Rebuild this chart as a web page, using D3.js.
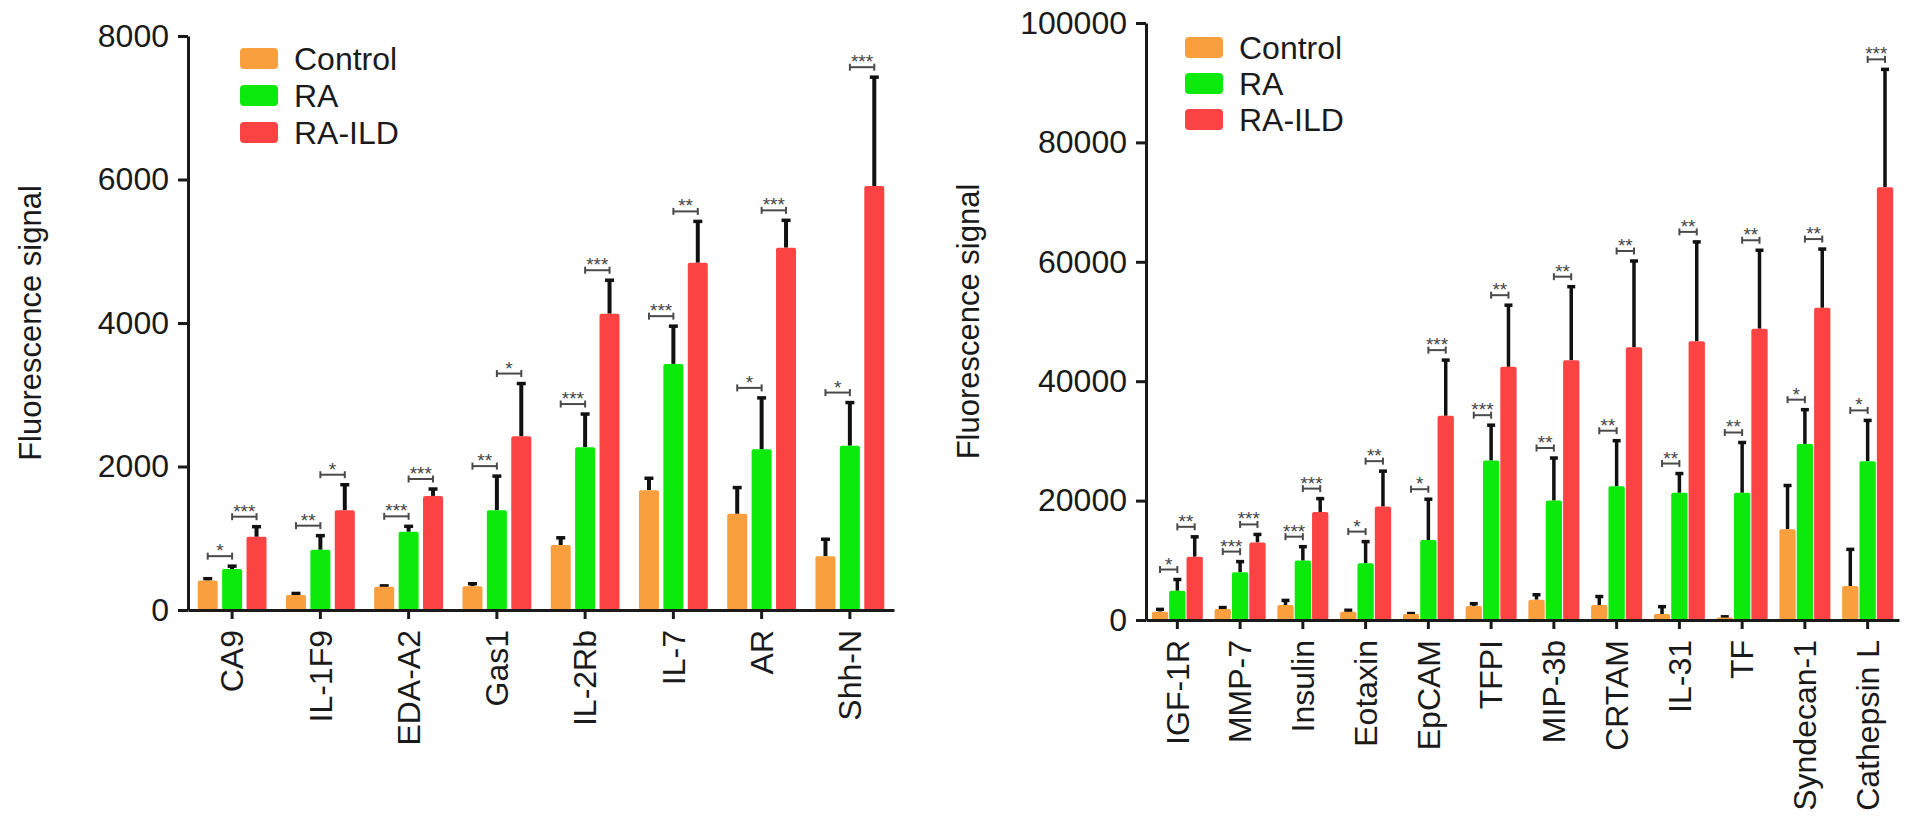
<!DOCTYPE html>
<html>
<head>
<meta charset="utf-8">
<script src="https://cdn.jsdelivr.net/npm/d3@7"></script>
<style>
  body { margin: 0; background: #fff; }
  svg { display: block; font-family: "Liberation Sans", Arial, Helvetica, sans-serif; }
</style>
</head>
<body>
<svg id="chart" width="1913" height="830"></svg>
<script>
// ---------- data ----------
const seriesNames = ["Control", "RA", "RA-ILD"];
const seriesColors = ["#F99F3E", "#0BEA0B", "#FB4343"];

// left panel
const catsLeft = ["CA9", "IL-1F9", "EDA-A2", "Gas1", "IL-2Rb", "IL-7", "AR", "Shh-N"];
const controlLeft = [410, 210, 325, 330, 905, 1670, 1340, 750];
const controlErrLeft = [40, 35, 25, 50, 115, 180, 380, 250];
const raLeft = [570, 840, 1090, 1390, 2270, 3430, 2240, 2290];
const raErrLeft = [55, 210, 90, 490, 475, 540, 730, 615];
const ildLeft = [1020, 1390, 1590, 2420, 4130, 4840, 5050, 5910];
const ildErrLeft = [155, 370, 110, 750, 480, 590, 395, 1530];
const sigCtrlRaLeft = ["*", "**", "***", "**", "***", "***", "*", "*"];
const sigRaIldLeft = ["***", "*", "***", "*", "***", "**", "***", "***"];
const ticksLeft = [0, 2000, 4000, 6000, 8000];

// right panel
const catsRight = ["IGF-1R", "MMP-7", "Insulin", "Eotaxin", "EpCAM", "TFPI", "MIP-3b", "CRTAM", "IL-31", "TF", "Syndecan-1", "Cathepsin L"];
const controlRight = [1400, 1850, 2500, 1400, 1000, 2350, 3400, 2500, 1000, 400, 15200, 5700];
const controlErrRight = [550, 400, 950, 400, 250, 550, 1000, 1600, 1400, 300, 7500, 6300];
const raRight = [4900, 8000, 9950, 9500, 13400, 26700, 20000, 22400, 21300, 21300, 29500, 26600];
const raErrRight = [2050, 1950, 2500, 3800, 7000, 6100, 7300, 7800, 3400, 8600, 5900, 7000];
const ildRight = [10600, 13000, 18100, 19000, 34200, 42400, 43500, 45700, 46700, 48800, 52300, 72500];
const ildErrRight = [3500, 1500, 2400, 6100, 9500, 10500, 12500, 14600, 16800, 13300, 10000, 19900];
const sigCtrlRaRight = ["*", "***", "***", "*", "*", "***", "**", "**", "**", "**", "*", "*"];
const sigRaIldRight = ["**", "***", "***", "**", "***", "**", "**", "**", "**", "**", "**", "***"];
const ticksRight = [0, 20000, 40000, 60000, 80000, 100000];

const yTitle = "Fluorescence signal";

// ---------- drawing ----------
const svg = d3.select("#chart");

function drawPanel(cfg) {
  const g = svg.append("g");
  const y = d3.scaleLinear().domain([0, cfg.ticks[cfg.ticks.length - 1]]).range([cfg.y0, cfg.y1]);
  const x0 = d3.scaleBand().domain(cfg.cats).range([cfg.x0, cfg.x1])
    .paddingInner(cfg.padIn).paddingOuter(cfg.padOut);
  const x1 = d3.scaleBand().domain(seriesNames).range([0, x0.bandwidth()])
    .paddingInner(cfg.barPad).paddingOuter(0);

  const rows = cfg.cats.map((c, i) => ({
    cat: c,
    vals: cfg.means.map((m, s) => ({ s: seriesNames[s], color: seriesColors[s], v: m[i], e: cfg.errs[s][i] })),
    sigA: cfg.sigA[i], sigB: cfg.sigB[i]
  }));

  const grp = g.selectAll("g.grp").data(rows).join("g")
    .attr("class", "grp")
    .attr("transform", d => `translate(${x0(d.cat)},0)`);

  // error bars (upper only)
  grp.selectAll("line.err").data(d => d.vals).join("line")
    .attr("class", "err")
    .attr("x1", d => x1(d.s) + x1.bandwidth() / 2)
    .attr("x2", d => x1(d.s) + x1.bandwidth() / 2)
    .attr("y1", d => y(d.v))
    .attr("y2", d => y(d.v + d.e))
    .attr("stroke", "#111").attr("stroke-width", cfg.errW);
  grp.selectAll("line.cap").data(d => d.vals).join("line")
    .attr("class", "cap")
    .attr("x1", d => x1(d.s) + x1.bandwidth() / 2 - cfg.capW / 2)
    .attr("x2", d => x1(d.s) + x1.bandwidth() / 2 + cfg.capW / 2)
    .attr("y1", d => y(d.v + d.e) + 1)
    .attr("y2", d => y(d.v + d.e) + 1)
    .attr("stroke", "#111").attr("stroke-width", 3.5);

  // bars
  grp.selectAll("rect.bar").data(d => d.vals).join("rect")
    .attr("class", "bar")
    .attr("x", d => x1(d.s))
    .attr("width", x1.bandwidth())
    .attr("y", d => y(d.v))
    .attr("height", d => y(0) - y(d.v))
    .attr("rx", 2)
    .attr("fill", d => d.color);

  // significance brackets
  const pairs = [[0, 1, "sigA"], [1, 2, "sigB"]];
  grp.each(function (d) {
    const gg = d3.select(this);
    pairs.forEach(([a, b, key]) => {
      const xa = x1(seriesNames[a]) + x1.bandwidth() / 2;
      const xb = x1(seriesNames[b]) + x1.bandwidth() / 2;
      const top = Math.max(d.vals[a].v + d.vals[a].e, d.vals[b].v + d.vals[b].e);
      const by = y(top) - 9;
      const bk = gg.append("g").attr("stroke", "#4a4a4a").attr("stroke-width", 2);
      bk.append("line").attr("x1", xa).attr("x2", xb).attr("y1", by).attr("y2", by);
      bk.append("line").attr("x1", xa).attr("x2", xa).attr("y1", by - 3.5).attr("y2", by + 3.5);
      bk.append("line").attr("x1", xb).attr("x2", xb).attr("y1", by - 3.5).attr("y2", by + 3.5);
      gg.append("text")
        .attr("x", (xa + xb) / 2).attr("y", by + 1)
        .attr("text-anchor", "middle")
        .attr("font-size", 19).attr("fill", "#444")
        .text(d[key]);
    });
  });

  // y axis
  const yAxis = g.append("g")
    .attr("transform", `translate(${cfg.x0},0)`)
    .call(d3.axisLeft(y).tickValues(cfg.ticks).tickFormat(d3.format("d"))
      .tickSize(10).tickPadding(9).tickSizeOuter(0));
  yAxis.select(".domain").attr("stroke", "#1a1a1a").attr("stroke-width", 3);
  yAxis.selectAll(".tick line").attr("stroke", "#1a1a1a").attr("stroke-width", 3);
  yAxis.selectAll(".tick text").attr("font-size", 32).attr("fill", "#1a1a1a")
    .attr("font-family", "'Liberation Sans', Arial, sans-serif");

  // x axis
  const xAxis = g.append("g")
    .attr("transform", `translate(0,${cfg.y0})`)
    .call(d3.axisBottom(x0).tickSize(9).tickSizeOuter(0));
  xAxis.select(".domain").attr("stroke", "#1a1a1a").attr("stroke-width", 3);
  xAxis.selectAll(".tick line").attr("stroke", "#1a1a1a").attr("stroke-width", 3);
  xAxis.selectAll(".tick text")
    .attr("transform", "rotate(-90)")
    .attr("x", -20).attr("y", 0).attr("dy", "0.35em")
    .attr("text-anchor", "end")
    .attr("font-size", 32).attr("fill", "#1a1a1a")
    .attr("font-family", "'Liberation Sans', Arial, sans-serif");

  // y title
  g.append("text")
    .attr("transform", `translate(${cfg.titleX},${(cfg.y0 + cfg.y1) / 2}) rotate(-90)`)
    .attr("text-anchor", "middle")
    .attr("dominant-baseline", "central")
    .attr("font-size", 31).attr("fill", "#1a1a1a")
    .text(yTitle);

  // legend
  const lg = g.append("g").attr("transform", `translate(${cfg.legX},${cfg.legY})`);
  seriesNames.forEach((s, i) => {
    lg.append("rect").attr("x", 0).attr("y", i * cfg.legStep)
      .attr("width", 38).attr("height", 21).attr("rx", 4)
      .attr("fill", seriesColors[i]);
    lg.append("text").attr("x", 54).attr("y", i * cfg.legStep + 10.5)
      .attr("dominant-baseline", "central")
      .attr("font-size", 32).attr("fill", "#1a1a1a")
      .text(s);
  });
}

drawPanel({
  cats: catsLeft,
  means: [controlLeft, raLeft, ildLeft],
  errs: [controlErrLeft, raErrLeft, ildErrLeft],
  sigA: sigCtrlRaLeft, sigB: sigRaIldLeft,
  ticks: ticksLeft,
  x0: 188, x1: 894, y0: 610, y1: 36,
  padIn: 0.22, padOut: 0.11, barPad: 0.18,
  errW: 4, capW: 9,
  titleX: 30, legX: 240, legY: 48, legStep: 37
});

drawPanel({
  cats: catsRight,
  means: [controlRight, raRight, ildRight],
  errs: [controlErrRight, raErrRight, ildErrRight],
  sigA: sigCtrlRaRight, sigB: sigRaIldRight,
  ticks: ticksRight,
  x0: 1146, x1: 1899, y0: 620, y1: 23,
  padIn: 0.187, padOut: 0.093, barPad: 0.06,
  errW: 3.5, capW: 8,
  titleX: 968, legX: 1185, legY: 37, legStep: 36
});
</script>
</body>
</html>
